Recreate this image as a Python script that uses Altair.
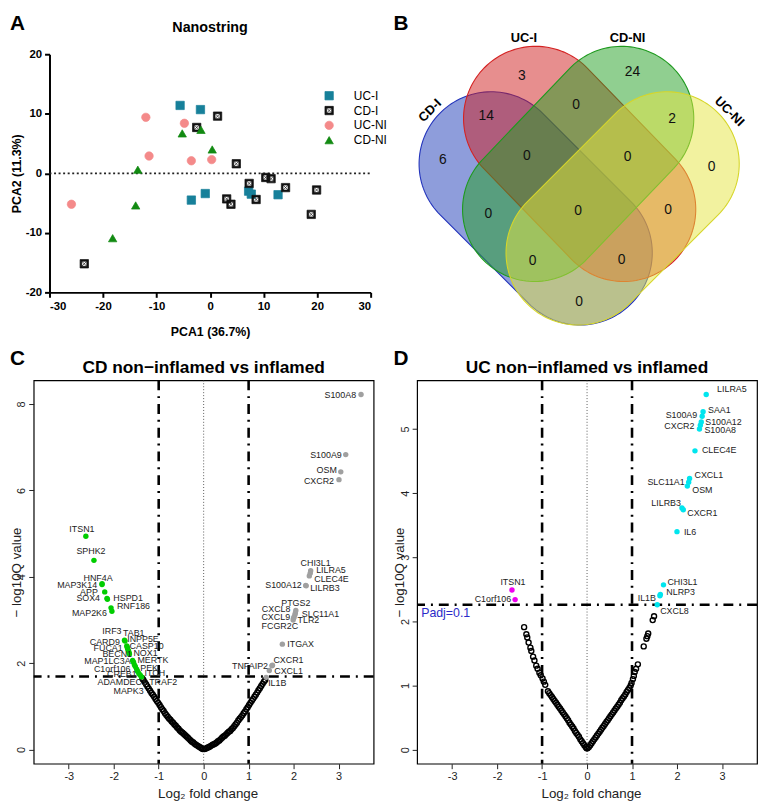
import altair as alt
import numpy as np
import pandas as pd

FONT = "Liberation Sans"

# ---------------- Panel A: PCA (Nanostring) ----------------
pca_groups = ["UC-I", "CD-I", "UC-NI", "CD-NI"]
uci_pc1 = [-5.6, -1.8, -3.5, -0.9, 7.2, 7.7, 12.7]
uci_pc2 = [11.4, 10.7, -4.5, -3.4, -3.0, -3.5, -3.6]
cdi_pc1 = [-23.5, -2.5, 1.4, 4.9, 7.3, 3.1, 3.9, 8.6, 10.4, 11.4, 14.1, 19.9, 18.9]
cdi_pc2 = [-15.2, 7.7, 9.6, 1.6, -1.7, -4.3, -5.2, -4.4, -0.7, -0.9, -2.4, -2.8, -6.9]
ucni_pc1 = [-25.9, -12.0, -11.4, -4.8, -3.5, 0.3]
ucni_pc2 = [-5.2, 9.4, 2.9, 8.4, 2.1, 2.3]
cdni_pc1 = [-13.5, -13.9, -18.2, -5.2, -1.7, 0.4]
cdni_pc2 = [0.6, -5.4, -10.9, 6.7, 7.3, 4.0]
pca_ticks_x = [-30, -20, -10, 0, 10, 20, 30]
pca_ticks_y = [-20, -10, 0, 10, 20]

# ---------------- Panel B: Venn ----------------
venn_sets = ["CD-I", "UC-I", "CD-NI", "UC-NI"]
venn_regions = ["CD-I", "UC-I", "CD-NI", "UC-NI", "CD-I&UC-I", "UC-I&CD-NI", "CD-NI&UC-NI",
                "CD-I&UC-I&CD-NI", "UC-I&CD-NI&UC-NI", "CD-I&CD-NI", "all",
                "UC-I&UC-NI", "CD-I&CD-NI&UC-NI", "CD-I&UC-I&UC-NI", "CD-I&UC-NI"]
venn_counts = [6, 3, 24, 0, 14, 0, 2, 0, 0, 0, 0, 0, 0, 0, 0]

# ---------------- Panel C: CD volcano ----------------
c_bg_x = [-1.36, -1.34, -1.31, -1.28, -1.25, -1.22, -1.19, -1.16, -1.13, -1.10, -1.07, -1.04, -1.01,
          -0.98, -0.95, -0.92, -0.89, -0.86, -0.83, -0.80, -0.77, -0.74, -0.71, -0.68, -0.65, -0.62,
          -0.59, -0.56, -0.53, -0.50, -0.47, -0.44, -0.41, -0.38, -0.35, -0.32, -0.29, -0.26, -0.23,
          -0.20, -0.17, -0.14, -0.11, -0.08, -0.05, -0.02,
          0.02, 0.05, 0.08, 0.11, 0.14, 0.17, 0.20, 0.23, 0.26, 0.29, 0.32, 0.35, 0.38, 0.41, 0.44,
          0.47, 0.50, 0.53, 0.56, 0.59, 0.62, 0.65, 0.68, 0.71, 0.74, 0.77, 0.80, 0.83, 0.86, 0.89,
          0.92, 0.95, 0.98, 1.01, 1.04, 1.07, 1.10, 1.13, 1.16, 1.19, 1.22, 1.25, 1.28, 1.31, 1.34, 1.37]
c_bg_y = [1.64, 1.61, 1.56, 1.51, 1.46, 1.41, 1.36, 1.31, 1.27, 1.22, 1.17, 1.12, 1.08,
          1.03, 0.98, 0.93, 0.89, 0.84, 0.80, 0.76, 0.72, 0.69, 0.65, 0.62, 0.58, 0.55,
          0.51, 0.48, 0.44, 0.41, 0.39, 0.36, 0.33, 0.30, 0.27, 0.24, 0.21, 0.18, 0.16,
          0.13, 0.11, 0.09, 0.07, 0.05, 0.03, 0.01,
          0.01, 0.02, 0.04, 0.05, 0.07, 0.09, 0.11, 0.12, 0.14, 0.16, 0.19, 0.21, 0.24, 0.27, 0.30,
          0.32, 0.35, 0.38, 0.41, 0.43, 0.47, 0.50, 0.54, 0.58, 0.62, 0.67, 0.71, 0.75, 0.79, 0.84,
          0.88, 0.93, 0.98, 1.03, 1.08, 1.13, 1.17, 1.22, 1.27, 1.32, 1.37, 1.42, 1.47, 1.52, 1.57, 1.61]
c_genes = ["S100A8", "S100A9", "OSM", "CXCR2", "CHI3L1", "LILRA5", "CLEC4E", "S100A12", "LILRB3",
           "PTGS2", "CXCL8", "SLC11A1", "CXCL9", "TLR2", "FCGR2C", "ITGAX", "CXCR1", "TNFAIP2",
           "CXCL1", "IL1B",
           "ITSN1", "SPHK2", "HNF4A", "MAP3K14", "APP", "SOX4", "HSPD1", "RNF186", "MAP2K6",
           "IRF3", "TAB1", "CARD9", "INPP5E", "FUCA1", "CASP10", "BECN1", "NOX1", "MAP1LC3A",
           "MERTK", "C1orf106", "PEK", "CREB1", "ITCH", "ADAMDEC1", "TRAF2", "MAPK3"]
c_gene_x = [3.50, 3.16, 3.05, 3.01, 2.38, 2.37, 2.35, 2.27, 2.28, 2.05, 2.04, 2.03, 2.01, 2.00,
            1.99, 1.75, 1.53, 1.52, 1.46, 1.39,
            -2.62, -2.44, -2.26, -2.26, -2.20, -2.15, -2.14, -2.06, -2.04,
            -1.76, -1.75, -1.71, -1.70, -1.69, -1.67, -1.66, -1.65, -1.58, -1.56, -1.54, -1.52,
            -1.49, -1.47, -1.44, -1.41, -1.38]
c_gene_y = [8.22, 6.83, 6.43, 6.25, 4.14, 4.08, 4.02, 3.80, 3.79, 3.22, 3.16, 3.12, 3.07, 3.04,
            3.00, 2.44, 1.95, 1.94, 1.83, 1.67,
            4.94, 4.38, 3.84, 3.82, 3.65, 3.50, 3.48, 3.28, 3.20,
            2.53, 2.51, 2.40, 2.37, 2.33, 2.28, 2.24, 2.21, 2.06, 2.02, 1.96, 1.92,
            1.86, 1.81, 1.76, 1.72, 1.68]
c_threshold = 1.69

# ---------------- Panel D: UC volcano ----------------
d_bg_x = [-1.40, -1.35, -1.33, -1.30, -1.26, -1.24, -1.20, -1.17, -1.13, -1.10, -1.06, -1.03,
          -0.99, -0.96, -0.93,
          -0.87, -0.84, -0.81, -0.78, -0.75, -0.72, -0.69, -0.66, -0.63, -0.60, -0.57, -0.54,
          -0.51, -0.48, -0.45, -0.42, -0.39, -0.36, -0.33, -0.30, -0.27, -0.24, -0.21, -0.18,
          -0.15, -0.12, -0.09, -0.06, -0.03, -0.01,
          0.01, 0.04, 0.07, 0.10, 0.13, 0.16, 0.19, 0.22, 0.25, 0.28, 0.31, 0.34, 0.37, 0.40,
          0.43, 0.46, 0.49, 0.52, 0.55, 0.58, 0.61, 0.64, 0.67, 0.70, 0.73, 0.76, 0.79, 0.82,
          0.85, 0.88, 0.91, 0.94, 0.97,
          0.99, 1.02, 1.04, 1.06, 1.09, 1.13, 1.26, 1.32, 1.34, 1.36, 1.46, 1.49]
d_bg_y = [1.91, 1.80, 1.75, 1.67, 1.59, 1.54, 1.45, 1.39, 1.31, 1.26, 1.20, 1.16,
          1.11, 1.06, 1.01,
          0.91, 0.88, 0.85, 0.82, 0.79, 0.76, 0.73, 0.70, 0.67, 0.64, 0.61, 0.58,
          0.55, 0.52, 0.49, 0.46, 0.42, 0.39, 0.36, 0.33, 0.29, 0.26, 0.23, 0.20,
          0.16, 0.13, 0.10, 0.07, 0.04, 0.02,
          0.02, 0.04, 0.07, 0.10, 0.13, 0.16, 0.19, 0.22, 0.25, 0.28, 0.31, 0.34, 0.37, 0.40,
          0.43, 0.46, 0.49, 0.52, 0.55, 0.58, 0.61, 0.64, 0.67, 0.70, 0.73, 0.77, 0.80, 0.83,
          0.86, 0.90, 0.93, 0.96, 1.00,
          1.04, 1.10, 1.15, 1.21, 1.26, 1.33, 1.61, 1.73, 1.77, 1.81, 2.02, 2.08]
d_genes = ["LILRA5", "SAA1", "S100A9", "S100A12", "CXCR2", "S100A8", "CLEC4E", "CXCL1", "SLC11A1",
           "OSM", "LILRB3", "CXCR1", "IL6", "CHI3L1", "NLRP3", "IL1B", "CXCL8", "ITSN1", "C1orf106"]
d_gene_x = [2.65, 2.58, 2.56, 2.54, 2.52, 2.50, 2.40, 2.28, 2.26, 2.23, 2.11, 2.14, 2.00, 1.70,
            1.63, 1.62, 1.56, -1.67, -1.60]
d_gene_y = [5.54, 5.27, 5.20, 5.11, 5.06, 5.00, 4.66, 4.23, 4.17, 4.11, 3.77, 3.74, 3.40, 2.57,
            2.42, 2.40, 2.26, 2.49, 2.34]
d_threshold = 2.26

vol_xticks = [-3, -2, -1, 0, 1, 2, 3]

# ================= layout / style (not data) =================
c_lab_dx = [-5, -4, -4, -5, 5, 6, 5, -4, 4, 0, -5, 7, -4, 4, 5, 5, 1, -4, 5, 2,
            -4, -3, -4, -5, -7, -7, 6, 6, -5, -3, -2, -7, 0, -5, 1, 3, 4, -2, 4, -4, 5, 0, 7, 8, 9, 2]
c_lab_dy = [0, 0, -2, 1, -8, -3, 3, 0, 2, -7, -4, -1, 0, 2, 6, 0, -5, 0, 1, 6,
            -7, -9, -6, 0, 0, 0, -1, -2, 2, -9, -8, -4, -8, -1, -5, 1, -1, 1, -2, 4, 1, 5, 2, 9, 7, 14]
c_lab_al = ["right", "right", "right", "right", "center", "left", "left", "right", "left", "center",
            "right", "left", "right", "left", "right", "left", "left", "right", "left", "left",
            "center", "center", "center", "right", "right", "right", "left", "left", "right",
            "right", "left", "right", "left", "right", "left", "right", "left", "right", "left",
            "right", "left", "right", "left", "right", "left", "right"]
d_lab_dx = [11, 5, -5, 4, -6, 5, 7, 5, -4, 5, -1, 4, 7, 4, 6, -4, 3, 1, -4]
d_lab_dy = [-5, -2, -1, 0, 1, 1, -1, -3, 0, 4, -5, 3, 0, -3, -2, 2, 6, -8, -1]
d_lab_al = ["left", "left", "right", "left", "right", "left", "left", "left", "right", "left",
            "right", "left", "left", "left", "left", "right", "left", "center", "right"]

venn_end1 = [(495, 161), (540, 115), (627, 115), (673, 161)]
venn_end2 = [(585, 251), (629, 207), (539, 207), (583, 251)]
venn_radius = 73
venn_fill = ["#1E3BB8", "#D01E1E", "#22A022", "#E6E640"]
venn_line = ["#2233BB", "#D42222", "#1E9A1E", "#D6D62A"]
venn_lab_x = [446, 526, 638, 718, 490, 581, 678, 531, 633, 492, 583, 674, 537, 627, 584]
venn_lab_y = [157, 72, 68, 164, 113, 101, 116, 153, 154, 212, 209, 208, 259, 258, 301]
venn_set_x = [433, 528, 633, 736]
venn_set_y = [107, 34, 34, 108]
venn_set_angle = [315, 0, 0, 45]
B_ORIGIN = (420, 20)

W_LEFT, W_RIGHT = 344, 344
H_A, H_B, H_BOT = 271, 316, 388


def text_at(t, x, y, size, weight="bold", align="left", baseline="top"):
    return alt.Chart(pd.DataFrame({"t": [t]})).mark_text(
        align=align, baseline=baseline, font=FONT, fontSize=size, fontWeight=weight, color="black"
    ).encode(text="t:N", x=alt.value(x), y=alt.value(y))


# ---------------- build A ----------------
rows = []
for g, xs, ys in zip(pca_groups, [uci_pc1, cdi_pc1, ucni_pc1, cdni_pc1],
                     [uci_pc2, cdi_pc2, ucni_pc2, cdni_pc2]):
    for a, b in zip(xs, ys):
        rows.append({"group": g, "x": a, "y": b})
dfA = pd.DataFrame(rows)

CDI_PATH = ("M-1,-1L1,-1L1,1L-1,1Z M-0.6,-0.6L-0.6,0.6L0.6,0.6L0.6,-0.6Z "
            "M-0.6,-0.6L0.6,0.6 M0.6,-0.6L-0.6,0.6")
colA = ["#17809A", "#111111", "#F48A8A", "#128A12"]


def axisA(**kw):
    base = dict(grid=False, domainColor="black", domainWidth=2, tickColor="black", tickWidth=2,
                tickSize=5, labelFont=FONT, labelFontSize=11.5, labelFontWeight="bold",
                labelColor="black", labelPadding=3, titleFont=FONT, titleFontSize=12.5,
                titleFontWeight="bold", titleColor="black", labelExpr="datum.value + ''")
    base.update(kw)
    return alt.Axis(**base)


xA = alt.X("x:Q", scale=alt.Scale(domain=[-30, 30], range=[16, 341], nice=False, zero=False),
           axis=axisA(values=pca_ticks_x, title="PCA1 (36.7%)", titleX=178.5, titleY=40,
                      titleBaseline="middle"))
yA = alt.Y("y:Q", scale=alt.Scale(domain=[-20, 20], range=[271, 30], nice=False, zero=False),
           axis=axisA(values=pca_ticks_y, title="PCA2 (11.3%)", offset=-16, titleX=-33.5,
                      titleY=150.5, titleAngle=270, titleAlign="center", titleBaseline="middle"))
legA = alt.Legend(title=None, orient="none", legendX=293, legendY=66, labelFont=FONT,
                  labelFontSize=12, labelFontWeight="normal", labelColor="black", symbolSize=72,
                  labelOffset=19, rowPadding=3, padding=0, symbolStrokeWidth=0.7)
zero_rule = alt.Chart(pd.DataFrame({"x": [-30], "x2": [30], "y": [0]})).mark_rule(
    color="#222222", strokeWidth=1.8, strokeDash=[2, 2.6]).encode(x=xA, x2="x2:Q", y=yA)
pointsA = alt.Chart(dfA).mark_point(filled=True, size=72, strokeWidth=0.7, opacity=1).encode(
    x=xA, y=yA,
    shape=alt.Shape("group:N", scale=alt.Scale(domain=pca_groups,
                    range=["square", CDI_PATH, "circle", "triangle-up"]), legend=legA),
    fill=alt.Fill("group:N", scale=alt.Scale(domain=pca_groups, range=colA), legend=legA),
    stroke=alt.Stroke("group:N", scale=alt.Scale(domain=pca_groups, range=colA), legend=legA),
)
panelA = alt.layer(
    zero_rule, pointsA,
    text_at("Nanostring", 178.5, 3, 14.5, align="center", baseline="middle"),
    text_at("A", -24, -12, 21),
).properties(width=W_LEFT, height=H_A)


# ---------------- build B ----------------
def capsule(p1, p2, r, n=72):
    p1 = np.array(p1, float)
    p2 = np.array(p2, float)
    d = p2 - p1
    ang = np.arctan2(d[1], d[0])
    t2 = np.linspace(ang - np.pi / 2, ang + np.pi / 2, n)
    t1 = np.linspace(ang + np.pi / 2, ang + 3 * np.pi / 2, n)
    pts = [[p2[0] + r * np.cos(t), p2[1] + r * np.sin(t)] for t in t2]
    pts += [[p1[0] + r * np.cos(t), p1[1] + r * np.sin(t)] for t in t1]
    pts.append(pts[0])
    return [[float(a), float(b)] for a, b in pts]


feats = []
for name, e1, e2 in zip(venn_sets, venn_end1, venn_end2):
    feats.append({"type": "Feature", "properties": {"name": name},
                  "geometry": {"type": "Polygon", "coordinates": [capsule(e1, e2, venn_radius)]}})

shapesB = alt.Chart(alt.Data(values=feats)).mark_geoshape(fillOpacity=0.5, strokeWidth=1.1).encode(
    fill=alt.Fill("properties.name:N", scale=alt.Scale(domain=venn_sets, range=venn_fill), legend=None),
    stroke=alt.Stroke("properties.name:N", scale=alt.Scale(domain=venn_sets, range=venn_line), legend=None),
).project(type="identity", scale=1, translate=[-B_ORIGIN[0], -B_ORIGIN[1]])

xB = alt.X("px:Q", scale=alt.Scale(domain=[B_ORIGIN[0], B_ORIGIN[0] + W_RIGHT], range=[0, W_RIGHT]), axis=None)
yB = alt.Y("py:Q", scale=alt.Scale(domain=[B_ORIGIN[1], B_ORIGIN[1] + H_B], range=[0, H_B]), axis=None)
countsB = alt.Chart(pd.DataFrame({"region": venn_regions, "n": venn_counts, "px": venn_lab_x,
                                  "py": venn_lab_y})).mark_text(
    font=FONT, fontSize=14, color="#111111", baseline="middle").encode(x=xB, y=yB, text="n:N")
namesB = alt.Chart(pd.DataFrame({"name": venn_sets, "px": venn_set_x, "py": venn_set_y,
                                 "ang": venn_set_angle})).mark_text(
    font=FONT, fontSize=13, fontWeight="bold", color="black", baseline="middle").encode(
    x=xB, y=yB, text="name:N", angle=alt.Angle("ang:Q", scale=None))
panelB = alt.layer(shapesB, countsB, namesB, text_at("B", -24, -12, 21)).properties(
    width=W_RIGHT, height=H_B)


# ---------------- volcano builder ----------------
def volcano(bg_x, bg_y, genes, gx, gy, ldx, ldy, lal, ydom, yvals, hline, width, title,
            colors, ch, note=None):
    height = H_BOT
    xdom = [-3.78, 3.78]
    xs = alt.Scale(domain=xdom, nice=False, zero=False)
    ys = alt.Scale(domain=ydom, nice=False, zero=False)
    common = dict(grid=False, domain=False, tickColor="#222222", tickWidth=1, tickSize=5,
                  labelFont=FONT, labelFontSize=11, labelColor="#222222", labelPadding=2,
                  titleFont=FONT, titleFontSize=13.5, titleFontWeight="normal", titleColor="#222222",
                  labelExpr="datum.value + ''")
    xaxis = alt.Axis(values=vol_xticks, title="Log₂ fold change", titleX=width / 2 + 4, titleY=30,
                     titleBaseline="middle", **common)
    yaxis = alt.Axis(values=yvals, labelAngle=270, labelAlign="center", labelBaseline="bottom",
                     title="− log10Q value", titleX=-17.5, titleY=height / 2, titleAngle=270,
                     titleAlign="center", titleBaseline="middle", **common)
    X = alt.X("x:Q", scale=xs, axis=xaxis)
    Y = alt.Y("y:Q", scale=ys, axis=yaxis)
    dash = [10, 6, 2, 6]
    layers = [
        alt.Chart(pd.DataFrame({"x": [-1.0, 1.0]})).mark_rule(color="black", strokeWidth=2.6,
                                                              strokeDash=dash).encode(x=X),
        alt.Chart(pd.DataFrame({"x": [0.0]})).mark_rule(color="#333333", strokeWidth=0.8,
                                                        strokeDash=[1, 2]).encode(x=X),
        alt.Chart(pd.DataFrame({"y": [hline]})).mark_rule(color="black", strokeWidth=2.6,
                                                          strokeDash=dash).encode(y=Y),
        alt.Chart(pd.DataFrame({"x": bg_x, "y": bg_y})).mark_point(
            shape="circle", filled=False, size=26, strokeWidth=1.4, color="black", opacity=1
        ).encode(x=X, y=Y),
    ]
    sig = pd.DataFrame({"gene": genes, "x": gx, "y": gy})
    sig["dir"] = np.where(sig["x"] < 0, "down", "up")
    layers.append(alt.Chart(sig).mark_circle(size=30, opacity=1).encode(
        x=X, y=Y, color=alt.Color("dir:N", scale=alt.Scale(domain=["down", "up"], range=colors),
                                  legend=None)))
    xspan = xdom[1] - xdom[0]
    yspan = ydom[1] - ydom[0]
    lab = pd.DataFrame({
        "gene": genes,
        "x": [a + d * xspan / width for a, d in zip(gx, ldx)],
        "y": [b - d * yspan / height for b, d in zip(gy, ldy)],
        "align": lal,
    })
    for a in ["left", "right", "center"]:
        sub = lab[lab["align"] == a]
        if len(sub):
            layers.append(alt.Chart(sub).mark_text(
                align=a, baseline="middle", font=FONT, fontSize=9, color="#222222"
            ).encode(x=X, y=Y, text="gene:N"))
    if note is not None:
        layers.append(alt.Chart(pd.DataFrame({"x": [note[0]], "y": [note[1]], "t": [note[2]]})).mark_text(
            align="left", baseline="middle", font=FONT, fontSize=12.5, color="#2A2AC8"
        ).encode(x=X, y=Y, text="t:N"))
    layers.append(text_at(title, width / 2, -12, 17.5, align="center", baseline="middle"))
    layers.append(text_at(ch, -24, -33, 21))
    return alt.layer(*layers).properties(
        width=width, height=height,
        view=alt.ViewBackground(stroke="black", strokeWidth=1.2),
    )


panelC = volcano(c_bg_x, c_bg_y, c_genes, c_gene_x, c_gene_y, c_lab_dx, c_lab_dy, c_lab_al,
                 [-0.33, 8.55], [0, 2, 4, 6, 8], c_threshold, W_LEFT,
                 "CD non−inflamed vs inflamed", ["#00CD00", "#A0A0A0"], "C")
panelD = volcano(d_bg_x, d_bg_y, d_genes, d_gene_x, d_gene_y, d_lab_dx, d_lab_dy, d_lab_al,
                 [-0.22, 5.76], [0, 1, 2, 3, 4, 5], d_threshold, W_RIGHT,
                 "UC non−inflamed vs inflamed", ["#EE00EE", "#00E5EE"], "D",
                 note=(-3.69, 2.13, "Padj=0.1"))

chart = alt.concat(panelA, panelB, panelC, panelD, columns=2,
                   spacing=44, bounds="flush").resolve_scale(
    color="independent", fill="independent", stroke="independent", shape="independent"
).properties(padding=0).configure(font=FONT).configure_view(stroke=None)

chart.save("out.html", embed_options={"renderer": "svg", "actions": False})
